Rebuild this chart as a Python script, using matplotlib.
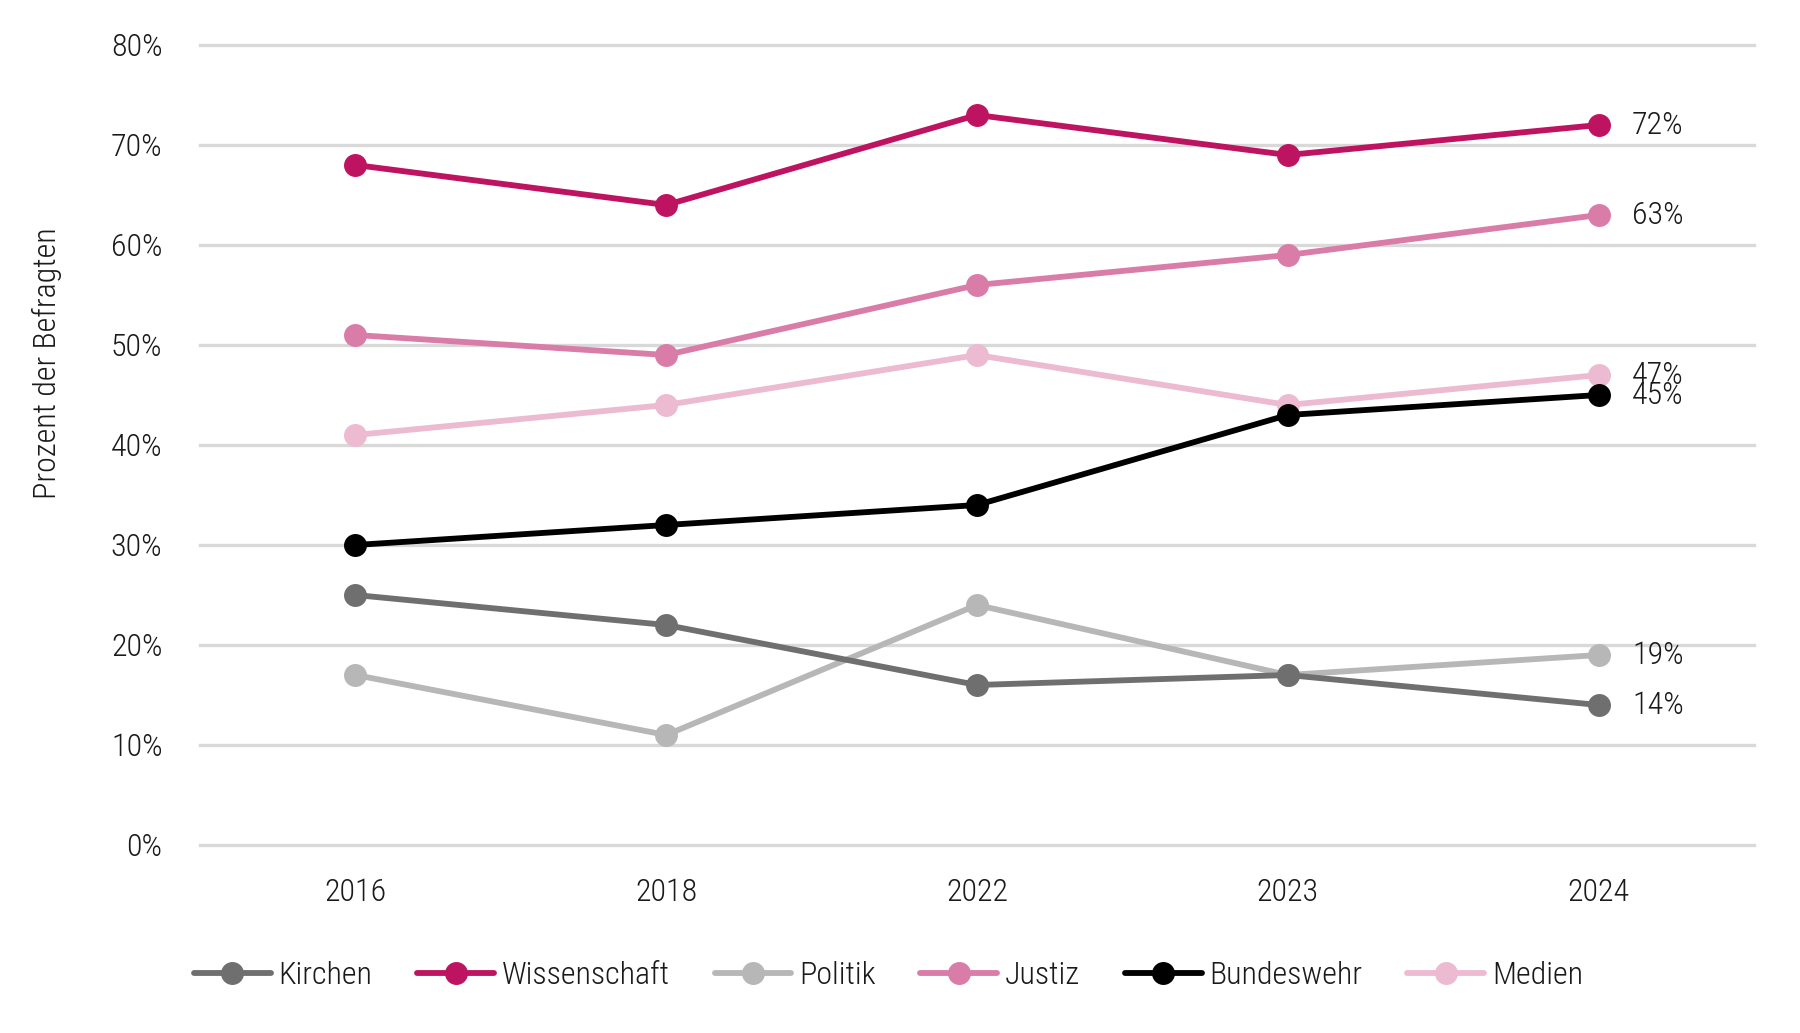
import matplotlib
matplotlib.use("Agg")
import matplotlib.pyplot as plt
from matplotlib import font_manager

# Daten (Prozent der Befragten)
jahre = ['2016', '2018', '2022', '2023', '2024']
serien = ['Kirchen', 'Wissenschaft', 'Politik', 'Justiz', 'Bundeswehr', 'Medien']
kirchen = [25, 22, 16, 17, 14]
wissenschaft = [68, 64, 73, 69, 72]
politik = [17, 11, 24, 17, 19]
justiz = [51, 49, 56, 59, 63]
bundeswehr = [30, 32, 34, 43, 45]
medien = [41, 44, 49, 44, 47]

werte = [kirchen, wissenschaft, politik, justiz, bundeswehr, medien]
farben = ['#6f6f6f', '#be1360', '#b7b7b7', '#d97ca8', '#000000', '#ecbbd2']
ebenen = [4, 5, 2, 3, 6, 1]

# schmale Schrift, falls vorhanden
vorhanden = {f.name for f in font_manager.fontManager.ttflist}
schrift = 'DejaVu Sans'
for kandidat in ['Roboto Condensed', 'Liberation Sans Narrow', 'Open Sans Condensed', 'Noto Sans']:
    if kandidat in vorhanden:
        schrift = kandidat
        break
plt.rcParams['font.family'] = [schrift, 'DejaVu Sans']
plt.rcParams['font.weight'] = 'light'
textfarbe = '#1a1a1a'
gr = 23

fig = plt.figure(figsize=(18, 10.33), dpi=100)
ax = fig.add_axes([200 / 1800, 1 - 845 / 1033, 1554 / 1800, 800 / 1033])

x = list(range(len(jahre)))
for name, y, farbe, z in zip(serien, werte, farben, ebenen):
    ax.plot(x, y, color=farbe, lw=4.2, marker='o', markersize=15.5, label=name,
            zorder=z, solid_capstyle='round', clip_on=False)

# Werte am Ende der Linien
for y in werte:
    ax.annotate(f'{y[-1]}%', (x[-1], y[-1]), xytext=(24, 0), textcoords='offset points',
                va='center', ha='left', fontsize=gr, color=textfarbe)

ax.set_xlim(-0.5, 4.5)
ax.set_ylim(0, 80)
ax.set_yticks(range(0, 81, 10))
ax.set_yticklabels([f'{v}%' for v in range(0, 81, 10)])
ax.set_xticks(x)
ax.set_xticklabels(jahre)
for v in range(0, 81, 10):
    ax.axhline(v, color='#d9d9d9', lw=2.4, zorder=0, clip_on=False)

ax.tick_params(length=0, labelsize=gr, labelcolor=textfarbe)
ax.tick_params(axis='y', pad=27)
ax.tick_params(axis='x', pad=24)
for s in ax.spines.values():
    s.set_visible(False)

fig.text(47 / 1800, 1 - 363 / 1033, 'Prozent der Befragten', rotation=90,
         ha='center', va='center', fontsize=gr, color=textfarbe)

ax.legend(loc='center left', bbox_to_anchor=(178 / 1800, 1 - 976 / 1033),
          bbox_transform=fig.transFigure, ncol=6, frameon=False, fontsize=gr,
          handlelength=2.4, handletextpad=0.25, columnspacing=1.4, borderpad=0,
          labelcolor=textfarbe)

fig.savefig('out.png', dpi=100)
